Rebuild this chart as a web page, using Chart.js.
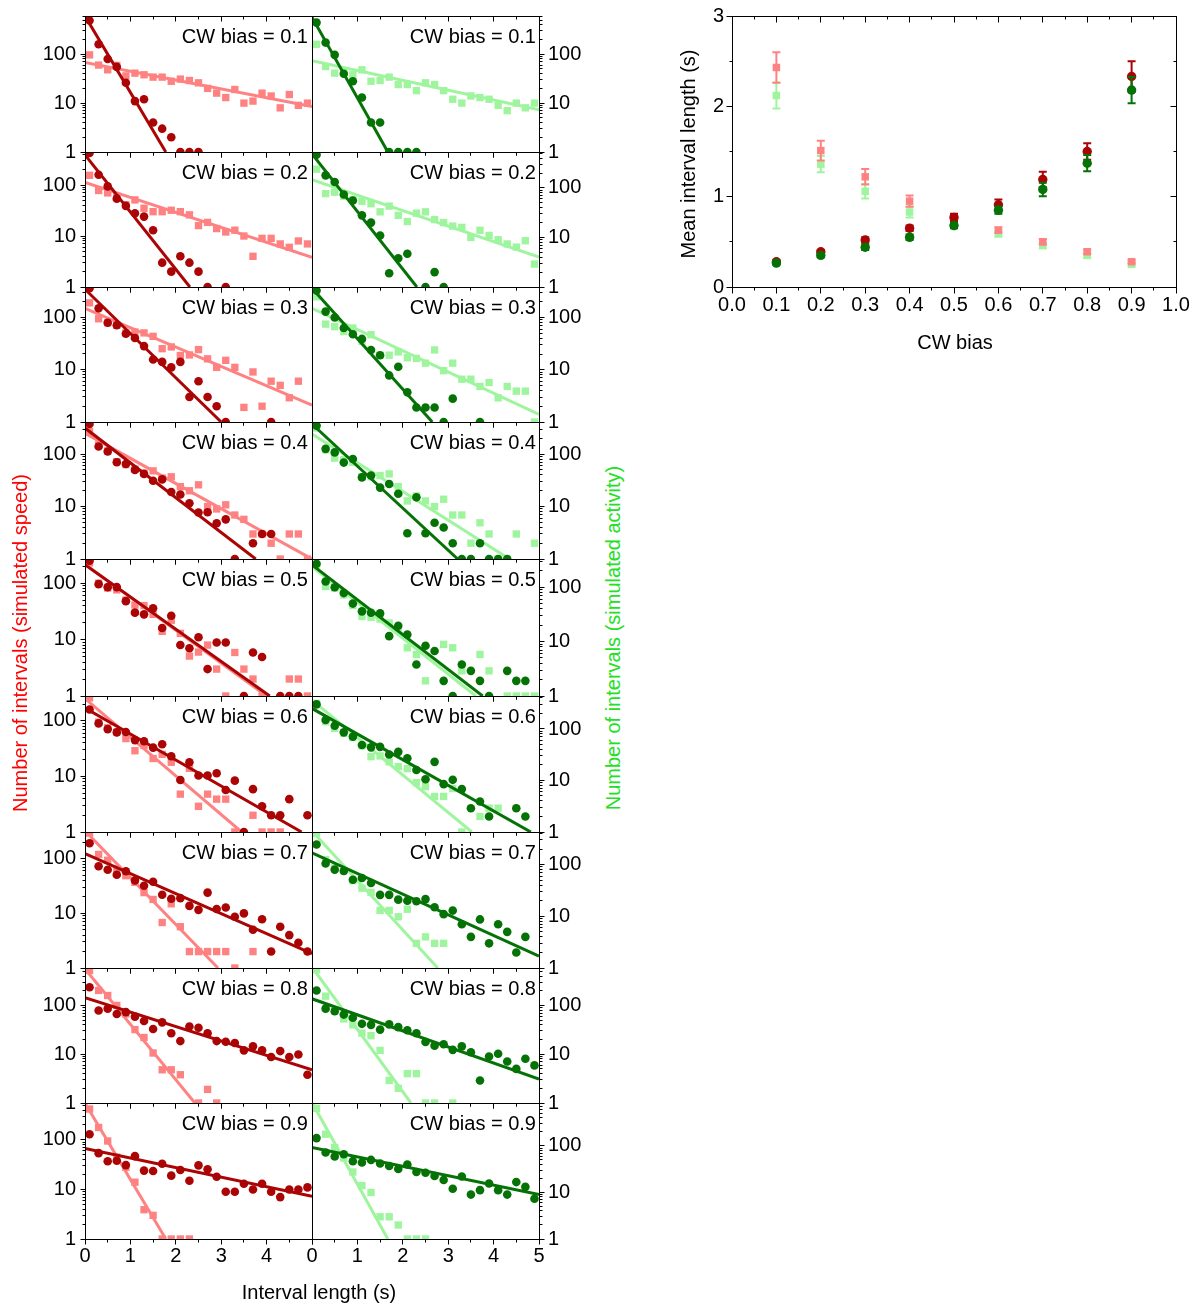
<!DOCTYPE html>
<html>
<head>
<meta charset="utf-8">
<title>Interval length distributions vs CW bias</title>
<script src="https://cdn.jsdelivr.net/npm/chart.js"></script>
<style>
  body { margin: 0; background: #fff; }
  #page { position: relative; width: 1204px; height: 1306px; overflow: hidden;
          font-family: Arial, "Liberation Sans", sans-serif; }
  #page canvas { position: absolute; }
  .txt { position: absolute; font-size: 20px; line-height: 20px; white-space: nowrap; }
</style>
</head>
<body>
<div id="page"></div>
<script>
// histogram bin centres (s)
const binCentres = [0.1, 0.3, 0.5, 0.7, 0.9, 1.1, 1.3, 1.5, 1.7, 1.9, 2.1, 2.3, 2.5,
                    2.7, 2.9, 3.1, 3.3, 3.5, 3.7, 3.9, 4.1, 4.3, 4.5, 4.7, 4.9];
const biasLabels = ['0.1', '0.2', '0.3', '0.4', '0.5', '0.6', '0.7', '0.8', '0.9'];

// top of each log axis, per row
const speedAxisMax    = [605, 444, 375, 410, 268, 280, 309, 586, 555];
const activityAxisMax = [605, 533, 385, 410, 330, 437, 427, 586, 835];

// simulated speed: dark red circles
const speedCircles = [
  [490,160,80,55,26,11,12,4,3,2,1,1,1,null,null,null,null,null,null,null,null,null,null,null,null],
  [425,159,94,54,39,28,24,13,3,2,4,3,2,1,null,1,null,null,null,null,null,null,null,null,null],
  [354,147,78,70,48,40,28,15.5,14,11,14,3,6,3,2,1,null,null,null,null,1,null,null,null,null],
  [375,140,112,70,65,50,42,31,33,19,17,11.6,7.7,7.8,4.8,5.7,1,null,2,3,3,null,null,null,null],
  [250,96,85,85,48,30,28,36,16,26.5,8,7,11,3,8.9,8.9,null,1,5.9,4.9,null,1,1,1,null],
  [160,90,71,62,63,45,43,33,38,23,8.6,18,10.4,10.4,11.4,5.7,8.4,1,5.9,2.9,2,2,3.9,null,2],
  [192,73,63,51,59,40,32,38,22,18.5,19,13.7,11.6,24,12,12.8,8.7,10,5,7.8,2,5.7,4,2.9,2],
  [237,79,86,67,73,59,48,33,45,27,18.6,37,35,27,18.6,18,17,12,14.5,12,8.8,11.6,8.8,9.9,3.8],
  [130,54,37,38,31,47,24,23.5,33,19,24.6,15,30.6,25.5,18,9,9,13,10,13,9,7,10,10,11]
];
// simulated speed: pink squares
const speedSquares = [
  [97,60,48,59,36,41,38,34,34,28,31,29,26,20,16,13,19,10,11,16,14,8,15,9,10],
  [155,78,70,60,41,51,35,30,30,32,30,26,16,18.5,14,12,13,10,4,9,9,7,6,8,7],
  [187,93,78,70,50,52,50,43,25,27,18.5,19,24,16,11,15,11,1.9,9,2,6,5,2.9,6,null],
  [270,150,115,72,63,52,43,48,35,37,24,20,26,10,9,10.8,6.9,5.7,3,3,2,1,3,3,1],
  [228,100,82,76,50,41,40,28,14,22,12.9,5.1,6,8,3,1,5.9,3,2,1,null,null,2,2,1],
  [260,95,75,63,48,29,36,21,25,18,4.8,14,2.9,4.8,3.9,3.9,1,null,2,1,1,1,null,null,null],
  [295,120,94,65,49,37,24,18,6.8,15,5.7,2,2,2,2,2,1,null,2,null,null,null,null,null,null],
  [520,203,160,100,67,32,22,10.6,4.8,4.8,3.8,null,1,1.9,1,null,null,null,null,null,null,null,null,null,null],
  [420,178,95,45,28,14,3.9,3,1,1,1,1,null,null,null,null,null,null,null,null,null,null,null,null,null]
];
// simulated activity: dark green circles
const activityCircles = [
  [443,173,97,40,28,13,4,4,1,1,1,1,null,null,null,null,null,null,null,null,null,null,null,null,null],
  [470,180,132,74,56,28,20,11,1.9,3.8,4.7,null,1,2,1,null,null,null,null,null,null,null,null,null,null],
  [330,130,100,63,48,39,24,19,7.8,11.4,3.7,1.9,1.9,1.9,1,2.8,null,null,1,null,null,null,null,null,null],
  [350,126,108,69,81,36,39,23,27,17.5,3.1,15,3.1,4.9,4,2,1,1,2,1,1,1,null,null,null],
  [270,127,100,78,50,36,34,33,12.6,19.6,13.5,3.8,8.4,6.7,1.9,1,3.8,2.9,1.9,1,null,2.9,1.9,1.9,null],
  [300,150,116,86,71,49,44,45,32,36,27,16,10.6,23,8.5,10.3,6.8,2.9,3.9,2,null,null,2.9,2,null],
  [245,105,80,75,51,55,44,26,26,21,20,19.5,21.5,15,11,12.9,7,4,8.7,3,7,5,2,4,null],
  [203,86,76,65,56,42,40,32,41,36,31,27,17.8,15,16,12.3,14.5,11,2.9,9,10.2,7.1,5,8.1,5.9],
  [147,72,59,66,47,44,50,42,37,32,40,27.5,26.5,22.5,18.5,12,22,9,11.2,15.6,11.2,9,16.7,13.2,7.3]
];
// simulated activity: light green squares
const activitySquares = [
  [160,56,41,45,38,48,28,29,34,24,24,18,26,24,18,12,10,14,13,12,9,7,10,8,10],
  [240,77,82,68,58,54,48,33,43,28,21,31,33,23,20,17,16,10,14,11,9,7.4,6.4,8.6,2.9],
  [250,75,67,54,63,35,47,19,19,22,17,16.5,13.4,24,9.6,13.4,6.6,6.6,4.8,5.7,2.9,4.8,3.9,3.9,1],
  [315,121,84,78,70,37,37,39,42,24,12.8,16,12.8,10,13.8,6.9,6.9,2,4.9,3,1,1,3,null,2],
  [255,103,96,72,46,29,28,26,22,18,7.7,5.8,1.9,null,8.9,7.7,2.9,null,5.8,2.9,null,1,1,1,1],
  [315,138,103,82,68,47,29,30,23,18.6,17,9.1,7.6,4.9,4.9,7,1,null,2,2.9,2.9,null,null,null,null],
  [400,125,86,75,49,35,29,13,13,9.8,13.7,3,4,3,3,null,null,null,null,null,null,null,null,null,null],
  [540,155,78,53,40,27,24,12,2.9,2,4,4,1,1,null,1,null,null,null,null,null,null,null,null,null],
  [640,178,92,55,27.5,14,10,3,3,2,1,1,1,null,null,null,null,null,null,null,null,null,null,null,null]
];

// exponential fits: two end points [x (s), count] per row
const speedCircleFit = [
  [[0,605],[1.78,1]], [[0,390],[2.31,1]], [[0,340],[3.0,1]], [[0,315],[3.76,1]], [[0,212],[4.07,1]],
  [[0,170],[4.77,1]], [[0,124],[5,1.84]], [[0,144],[5,4.8]], [[0,67],[5,7.3]]
];
const speedSquareFit = [
  [[0,68],[5,8.5]], [[0,113],[5,3.8]], [[0,146],[5,2.1]], [[0,251],[5,1]], [[0,215],[4.0,1]],
  [[0,251],[3.45,1]], [[0,324],[2.93,1]], [[0,562],[2.42,1]], [[0,555],[1.78,1]]
];
const activityCircleFit = [
  [[0,570],[1.67,1]], [[0,490],[2.31,1]], [[0,363],[2.65,1]], [[0,375],[3.21,1]], [[0,258],[3.76,1]],
  [[0,251],[4.82,1]], [[0,168],[5,1.7]], [[0,137],[5,3.1]], [[0,92],[5,9]]
];
const activitySquareFit = [
  [[0,74],[5,7.3]], [[0,148],[5,4.0]], [[0,150],[5,1.4]], [[0,241],[4.35,1]], [[0,240],[3.61,1]],
  [[0,363],[3.52,1]], [[0,445],[2.77,1]], [[0,610],[2.18,1]], [[0,865],[1.67,1]]
];

// mean interval length vs CW bias
const cwBias = [0.1, 0.2, 0.3, 0.4, 0.5, 0.6, 0.7, 0.8, 0.9];
const speedSquareMean    = [2.43, 1.51, 1.22, 0.95, 0.76, 0.63, 0.50, 0.39, 0.28];
const speedSquareErr     = [0.17, 0.11, 0.085, 0.063, 0.04, 0.03, 0.03, 0.025, 0.02];
const activitySquareMean = [2.12, 1.36, 1.06, 0.83, 0.70, 0.59, 0.46, 0.35, 0.25];
const activitySquareErr  = [0.145, 0.09, 0.08, 0.06, 0.04, 0.03, 0.03, 0.025, 0.02];
const speedCircleMean    = [0.28, 0.39, 0.52, 0.65, 0.77, 0.91, 1.19, 1.50, 2.33];
const speedCircleErr     = [0.02, 0.02, 0.03, 0.03, 0.04, 0.06, 0.085, 0.09, 0.17];
const activityCircleMean = [0.265, 0.35, 0.44, 0.55, 0.68, 0.85, 1.08, 1.37, 2.18];
const activityCircleErr  = [0.02, 0.02, 0.03, 0.03, 0.03, 0.04, 0.075, 0.09, 0.145];

// ---- drawing ----
const DARK_RED = '#aa0404', PINK = '#ff8282', DARK_GREEN = '#057205', LIGHT_GREEN = '#9ef59e';
const rowEdges = [16, 152, 287, 422, 559, 696, 832, 968, 1103, 1239];

Chart.defaults.font.family = 'Arial, "Liberation Sans", sans-serif';
Chart.defaults.font.size = 20;
Chart.defaults.color = '#000';

const page = document.getElementById('page');

function addCanvas(left, top, w, h) {
  const c = document.createElement('canvas');
  c.width = w; c.height = h;
  c.style.left = left + 'px'; c.style.top = top + 'px';
  c.style.width = w + 'px'; c.style.height = h + 'px';
  page.appendChild(c);
  return c;
}

function addText(text, css) {
  const d = document.createElement('div');
  d.className = 'txt';
  d.textContent = text;
  Object.assign(d.style, css);
  page.appendChild(d);
}

function linearTicks(min, max, major, minor) {
  const out = [];
  for (let i = 0; min + i * minor <= max + 1e-9; i++) {
    const v = min + i * minor;
    out.push({ v, major: Math.abs(v / major - Math.round(v / major)) < 1e-6 });
  }
  return out;
}

function logTicks(max) {
  const out = [];
  for (let p = 1; p <= max; p *= 10)
    for (let m = 1; m < 10; m++)
      if (m * p <= max) out.push({ v: m * p, major: m === 1 });
  return out;
}

const isDecade = v => Math.abs(Math.log10(v) - Math.round(Math.log10(v))) < 1e-6;

// frame + tick marks drawn from the chart's own scales
const frameTicks = {
  id: 'frameTicks',
  afterDraw(chart, args, o) {
    const { ctx, chartArea: a } = chart;
    const xs = chart.scales.x, ys = chart.scales.y;
    const px = v => Math.floor(v) + 0.5;
    const seg = (x1, y1, x2, y2) => { ctx.beginPath(); ctx.moveTo(x1, y1); ctx.lineTo(x2, y2); ctx.stroke(); };
    ctx.save();
    ctx.strokeStyle = '#000';
    ctx.lineWidth = 1;
    const L = px(a.left), R = px(a.right), T = px(a.top), B = px(a.bottom);
    ctx.strokeRect(L, T, R - L, B - T);
    for (const t of o.xTicks) {
      const x = px(xs.getPixelForValue(t.v));
      const len = t.major ? o.major : o.minor;
      if (o.top) seg(x, T, x, T + (o.top === 'in' ? len : -len));
      if (o.bottom) seg(x, B, x, B + (o.bottom === 'out' ? len : -len));
    }
    for (const t of o.yTicks) {
      const y = px(ys.getPixelForValue(t.v));
      const len = t.major ? o.major : o.minor;
      if (o.left) seg(L, y, L + (o.left === 'in' ? len : -len), y);
      if (o.right) seg(R, y, R + (o.right === 'out' ? len : -len), y);
    }
    ctx.restore();
  }
};

// error bars under each marker set
const errorBars = {
  id: 'errorBars',
  beforeDatasetDraw(chart, args) {
    const ds = chart.data.datasets[args.index];
    if (!ds.yErr) return;
    const { ctx } = chart;
    const xs = chart.scales.x, ys = chart.scales.y;
    ctx.save();
    ctx.strokeStyle = ds.backgroundColor;
    ctx.lineWidth = 2;
    ds.data.forEach((p, i) => {
      const e = ds.yErr[i];
      const x = xs.getPixelForValue(p.x);
      const y1 = ys.getPixelForValue(p.y + e), y2 = ys.getPixelForValue(p.y - e);
      ctx.beginPath();
      ctx.moveTo(x, y1); ctx.lineTo(x, y2);
      ctx.moveTo(x - 4, y1); ctx.lineTo(x + 4, y1);
      ctx.moveTo(x - 4, y2); ctx.lineTo(x + 4, y2);
      ctx.stroke();
    });
    ctx.restore();
  }
};

const toPoints = values => values.map((v, i) => ({ x: binCentres[i], y: v })).filter(p => p.y !== null);
const toLine = seg => seg.map(([x, y]) => ({ x, y }));

function drawPanel(row, isSpeed) {
  const top = rowEdges[row], h = rowEdges[row + 1] - top;
  const last = row === rowEdges.length - 2;
  // room for the first/last tick label so Chart.js does not shrink the plot
  const padT = 24, padB = 26, axisW = 55, gap = 12, xAxisH = 50;
  const plotLeft = isSpeed ? 85 : 312, plotW = 227;
  const cLeft = isSpeed ? plotLeft - axisW : plotLeft - gap;
  const cW = axisW + plotW + gap;
  const cH = padT + h + (last ? xAxisH : padB);
  const canvas = addCanvas(cLeft, top - padT, cW, cH);

  const dark = isSpeed ? DARK_RED : DARK_GREEN;
  const light = isSpeed ? PINK : LIGHT_GREEN;
  const circles = isSpeed ? speedCircles[row] : activityCircles[row];
  const squares = isSpeed ? speedSquares[row] : activitySquares[row];
  const circleFit = isSpeed ? speedCircleFit[row] : activityCircleFit[row];
  const squareFit = isSpeed ? speedSquareFit[row] : activitySquareFit[row];
  const yMax = isSpeed ? speedAxisMax[row] : activityAxisMax[row];

  new Chart(canvas, {
    type: 'scatter',
    data: {
      datasets: [
        { data: toLine(circleFit), showLine: true, borderColor: dark, borderWidth: 3, pointRadius: 0, clip: 0 },
        { data: toPoints(circles), pointStyle: 'circle', pointRadius: 4.3, backgroundColor: dark, borderWidth: 0, clip: 0 },
        { data: toLine(squareFit), showLine: true, borderColor: light, borderWidth: 3, pointRadius: 0, clip: 0 },
        { data: toPoints(squares), pointStyle: 'rect', pointRadius: 5.2, backgroundColor: light, borderWidth: 0, clip: 0 }
      ]
    },
    options: {
      responsive: false,
      animation: false,
      devicePixelRatio: 1,
      events: [],
      layout: { padding: { left: isSpeed ? 0 : gap, right: isSpeed ? gap : 0, top: padT, bottom: last ? 0 : padB } },
      plugins: {
        legend: { display: false },
        tooltip: { enabled: false },
        frameTicks: {
          xTicks: linearTicks(0, 5, 1, 0.5),
          yTicks: logTicks(yMax),
          top: 'in', bottom: 'out',
          left: isSpeed ? 'out' : null,
          right: isSpeed ? null : 'out',
          major: 5, minor: 3
        }
      },
      scales: {
        x: {
          type: 'linear', min: 0, max: 5, display: last,
          grid: { display: false, drawTicks: false }, border: { display: false },
          ticks: { stepSize: 1, padding: 5, autoSkip: false, maxRotation: 0,
                   callback: v => (isSpeed && v === 5) ? '' : String(v) },
          afterFit: s => { s.height = last ? xAxisH : 0; }
        },
        y: {
          type: 'logarithmic', position: isSpeed ? 'left' : 'right', min: 1, max: yMax,
          grid: { display: false, drawTicks: false }, border: { display: false },
          ticks: { autoSkip: false, padding: 9, callback: v => isDecade(v) ? String(Math.round(v)) : '' },
          afterFit: s => { s.width = axisW; }
        }
      }
    },
    plugins: [frameTicks]
  });

  const labelRight = isSpeed ? 308 : 536;
  addText('CW bias = ' + biasLabels[row], {
    left: (labelRight - 200) + 'px', width: '200px', textAlign: 'right', top: (top + 10) + 'px'
  });
}

for (let r = 0; r < biasLabels.length; r++) {
  drawPanel(r, true);
  drawPanel(r, false);
}

addText('Interval length (s)', { left: '169px', width: '300px', textAlign: 'center', top: '1282px' });
addText('Number of intervals (simulated speed)', {
  left: '-180px', width: '400px', textAlign: 'center', top: '633px', color: '#ff0000', transform: 'rotate(-90deg)'
});
addText('Number of intervals (simulated activity)', {
  left: '413px', width: '400px', textAlign: 'center', top: '628px', color: '#22e022', transform: 'rotate(-90deg)'
});

// ---- mean interval length chart ----
// canvas starts 4px above the page so the plot top lands at y=16 after Chart.js reserves label room
const meanCanvas = addCanvas(670, -4, 534, 364);
const meanPoints = values => values.map((v, i) => ({ x: cwBias[i], y: v }));

new Chart(meanCanvas, {
  type: 'scatter',
  data: {
    datasets: [
      { data: meanPoints(activityCircleMean), yErr: activityCircleErr, pointStyle: 'circle', pointRadius: 4.7,
        backgroundColor: DARK_GREEN, borderWidth: 0 },
      { data: meanPoints(speedCircleMean), yErr: speedCircleErr, pointStyle: 'circle', pointRadius: 4.7,
        backgroundColor: DARK_RED, borderWidth: 0 },
      { data: meanPoints(speedSquareMean), yErr: speedSquareErr, pointStyle: 'rect', pointRadius: 5.3,
        backgroundColor: PINK, borderWidth: 0 },
      { data: meanPoints(activitySquareMean), yErr: activitySquareErr, pointStyle: 'rect', pointRadius: 5.3,
        backgroundColor: LIGHT_GREEN, borderWidth: 0 }
    ]
  },
  options: {
    responsive: false,
    animation: false,
    devicePixelRatio: 1,
    events: [],
    layout: { padding: { left: 0, right: 28, top: 0, bottom: 0 } },
    plugins: {
      legend: { display: false },
      tooltip: { enabled: false },
      frameTicks: {
        xTicks: linearTicks(0, 1, 0.1, 0.05),
        yTicks: linearTicks(0, 3, 1, 0.5),
        top: 'in', bottom: 'out', left: 'out', right: 'in',
        major: 6, minor: 3
      }
    },
    scales: {
      x: {
        type: 'linear', min: 0, max: 1,
        grid: { display: false, drawTicks: false }, border: { display: false },
        ticks: { stepSize: 0.1, padding: 6, autoSkip: false, maxRotation: 0, callback: v => v.toFixed(1) },
        afterFit: s => { s.height = 73; }
      },
      y: {
        type: 'linear', min: 0, max: 3,
        grid: { display: false, drawTicks: false }, border: { display: false },
        ticks: { stepSize: 1, padding: 8, callback: v => String(v) },
        afterFit: s => { s.width = 62; }
      }
    }
  },
  plugins: [frameTicks, errorBars]
});

addText('CW bias', { left: '855px', width: '200px', textAlign: 'center', top: '332px' });
addText('Mean interval length (s)', {
  left: '488px', width: '400px', textAlign: 'center', top: '144px', transform: 'rotate(-90deg)'
});
</script>
</body>
</html>
